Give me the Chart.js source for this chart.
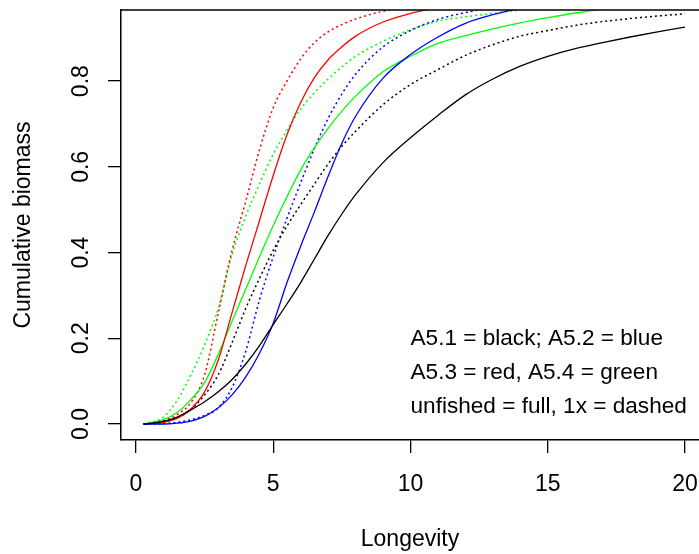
<!DOCTYPE html>
<html lang="en">
<head>
<meta charset="UTF-8">
<title>Cumulative biomass vs longevity</title>
<script src="https://cdn.jsdelivr.net/npm/chart.js"></script>
<style>
  body { margin: 0; background: #fff; }
  canvas { display: block; }
</style>
</head>
<body>
<canvas id="grafico" width="699" height="554"></canvas>
<script>
// longevity values (x) shared by all curves
const longevity = [0.27, 1, 1.5, 2, 2.5, 3, 3.5, 4, 4.5, 5, 5.5, 6, 6.5, 7, 7.5, 8, 9, 10, 11, 12, 13, 14, 15, 16, 17, 18, 19, 20];

// cumulative biomass, unfished (full lines)
const a51Unfished = [0, 0.006, 0.016, 0.033, 0.052, 0.075, 0.104, 0.14, 0.183, 0.232, 0.28, 0.33, 0.385, 0.44, 0.49, 0.535, 0.61, 0.668, 0.72, 0.768, 0.805, 0.835, 0.858, 0.876, 0.89, 0.903, 0.915, 0.926];
const a52Unfished = [0, 0, 0.002, 0.007, 0.018, 0.038, 0.068, 0.11, 0.165, 0.235, 0.33, 0.415, 0.495, 0.578, 0.655, 0.718, 0.807, 0.862, 0.903, 0.935, 0.955, 0.97, 0.98, 0.987, 0.992, 0.995, 0.997, 0.999];
const a53Unfished = [0, 0.004, 0.013, 0.035, 0.075, 0.15, 0.26, 0.37, 0.475, 0.58, 0.675, 0.75, 0.808, 0.85, 0.88, 0.905, 0.938, 0.958, 0.972, 0.982, 0.988, 0.992, 0.995, 0.997, 0.998, 0.999, 1, 1];
const a54Unfished = [0, 0.01, 0.027, 0.057, 0.097, 0.163, 0.24, 0.315, 0.39, 0.463, 0.53, 0.593, 0.645, 0.69, 0.73, 0.765, 0.822, 0.858, 0.888, 0.906, 0.922, 0.936, 0.948, 0.959, 0.968, 0.975, 0.981, 0.986];

// cumulative biomass, fished 1x (dashed lines)
const a51Fished = [0, 0.006, 0.015, 0.034, 0.068, 0.115, 0.19, 0.27, 0.34, 0.405, 0.462, 0.512, 0.56, 0.607, 0.648, 0.683, 0.745, 0.792, 0.827, 0.86, 0.885, 0.905, 0.918, 0.93, 0.939, 0.946, 0.952, 0.957];
const a52Fished = [0, 0.001, 0.004, 0.01, 0.02, 0.038, 0.085, 0.17, 0.29, 0.39, 0.48, 0.563, 0.643, 0.713, 0.77, 0.816, 0.88, 0.918, 0.944, 0.96, 0.972, 0.98, 0.986, 0.99, 0.993, 0.995, 0.997, 0.998];
const a53Fished = [0, 0.008, 0.022, 0.05, 0.115, 0.26, 0.405, 0.52, 0.64, 0.738, 0.8, 0.852, 0.89, 0.915, 0.932, 0.945, 0.963, 0.975, 0.984, 0.99, 0.994, 0.996, 0.998, 0.999, 1, 1, 1, 1];
const a54Fished = [0, 0.016, 0.055, 0.115, 0.185, 0.27, 0.395, 0.485, 0.56, 0.63, 0.685, 0.735, 0.773, 0.805, 0.833, 0.858, 0.893, 0.92, 0.94, 0.95, 0.958, 0.966, 0.972, 0.978, 0.983, 0.987, 0.99, 0.993];

const xTicks = [0, 5, 10, 15, 20];
const yTicks = [0, 0.2, 0.4, 0.6, 0.8];
const notes = ['A5.1 = black; A5.2 = blue', 'A5.3 = red, A5.4 = green', 'unfished = full, 1x = dashed'];

const FONT = '"Liberation Sans", Arial, sans-serif';
Chart.defaults.color = '#000';
Chart.defaults.font.family = FONT;
Chart.defaults.font.size = 23;

function serie(vals, color, dashed) {
  return {
    data: longevity.map((x, i) => ({ x: x, y: vals[i] })),
    borderColor: color,
    borderWidth: dashed ? 1.5 : 1.3,
    borderDash: dashed ? [2, 3] : [],
    pointRadius: 0,
    cubicInterpolationMode: 'monotone',
    fill: false
  };
}

// marco superior del grafico y texto explicativo
const boxAndText = {
  id: 'boxAndText',
  afterDraw(chart) {
    const ctx = chart.ctx;
    const a = chart.chartArea;
    ctx.save();
    ctx.strokeStyle = '#000';
    ctx.lineWidth = 1.5;
    ctx.beginPath();
    ctx.moveTo(a.left, a.top);
    ctx.lineTo(a.right + 2, a.top);
    ctx.stroke();
    ctx.font = '22.6px ' + FONT;
    ctx.fillStyle = '#000';
    ctx.textBaseline = 'middle';
    ctx.textAlign = 'left';
    const xs = chart.scales.x, ys = chart.scales.y;
    const pos = [0.2, 0.12, 0.04];
    notes.forEach((t, i) => ctx.fillText(t, xs.getPixelForValue(10), ys.getPixelForValue(pos[i])));
    ctx.restore();
  }
};

new Chart(document.getElementById('grafico'), {
  type: 'line',
  data: {
    datasets: [
      serie(a51Unfished, '#000000', false),
      serie(a52Unfished, '#0000ff', false),
      serie(a53Unfished, '#ff0000', false),
      serie(a54Unfished, '#00ff00', false),
      serie(a51Fished, '#000000', true),
      serie(a52Fished, '#0000ff', true),
      serie(a53Fished, '#ff0000', true),
      serie(a54Fished, '#00ff00', true)
    ]
  },
  options: {
    responsive: false,
    animation: false,
    layout: { padding: { top: 10, left: 0, right: 0, bottom: 0 } },
    plugins: { legend: { display: false }, tooltip: { enabled: false } },
    scales: {
      x: {
        type: 'linear',
        min: -0.546,
        max: 20.51,
        afterBuildTicks: s => { s.ticks = xTicks.map(v => ({ value: v })); },
        afterFit: s => { s.height = 114; s.paddingLeft = 0; s.paddingRight = 0; },
        grid: { drawOnChartArea: false, color: '#000', lineWidth: 1.3, tickLength: 13 },
        border: { display: true, color: '#000', width: 1.5 },
        ticks: { padding: 18, maxRotation: 0, autoSkip: false },
        title: { display: true, text: 'Longevity', padding: { top: 0, bottom: 1 } }
      },
      y: {
        type: 'linear',
        min: -0.0373,
        max: 0.966,
        afterBuildTicks: s => { s.ticks = yTicks.map(v => ({ value: v })); },
        afterFit: s => { s.width = 121; s.paddingTop = 0; s.paddingBottom = 0; },
        grid: { drawOnChartArea: false, color: '#000', lineWidth: 1.3, tickLength: 13 },
        border: { display: true, color: '#000', width: 1.5 },
        ticks: {
          padding: 10,
          minRotation: 90,
          maxRotation: 90,
          crossAlign: 'center',
          autoSkip: false,
          callback: v => v.toFixed(1)
        },
        title: { display: true, text: 'Cumulative biomass', padding: { top: 10, bottom: 0 } }
      }
    }
  },
  plugins: [boxAndText]
});
</script>
</body>
</html>
